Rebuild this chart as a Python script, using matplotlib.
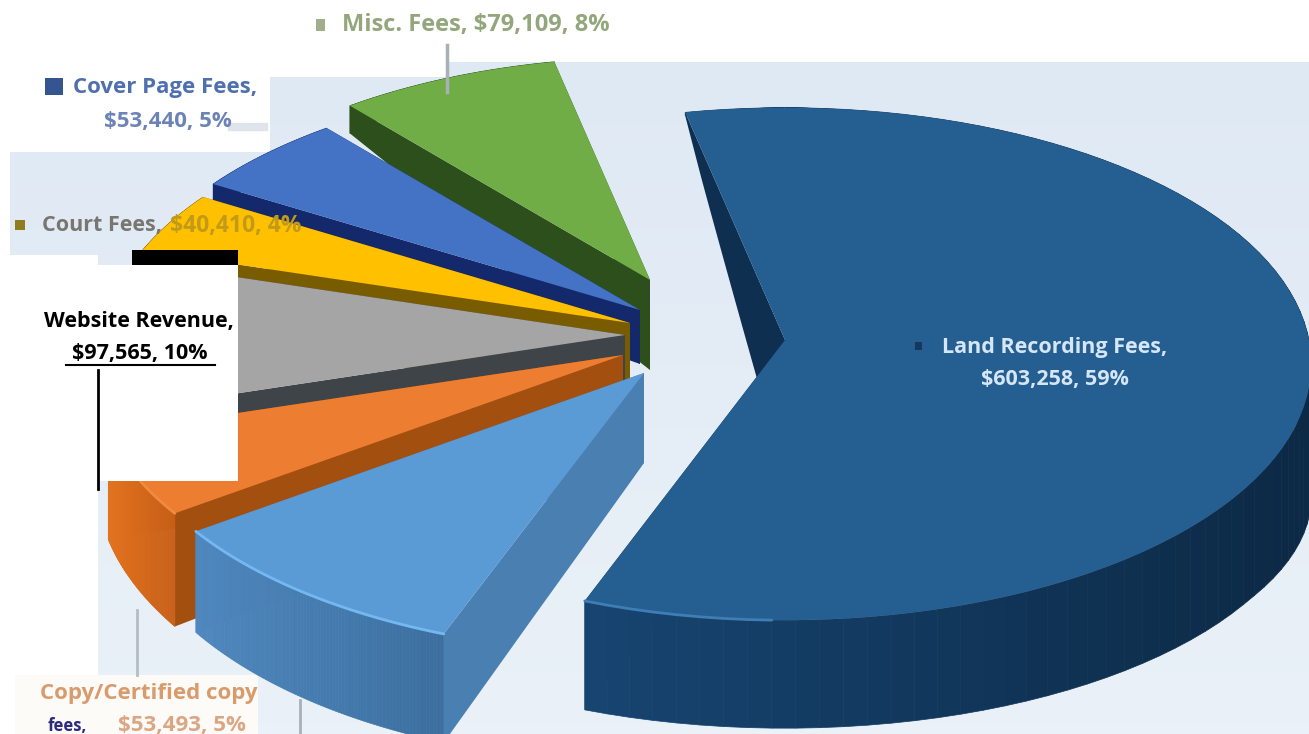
import numpy as np
import matplotlib
matplotlib.use("Agg")
import matplotlib.pyplot as plt
from matplotlib.patches import Polygon, Rectangle

plt.rcParams['font.family'] = ['Open Sans', 'DejaVu Sans']

# revenue per category, clockwise from the back of the pie
categories = ["Land Recording Fees", "Other Fees", "Copy/Certified copy fees",
              "Website Revenue", "Court Fees", "Cover Page Fees", "Misc. Fees"]
amounts = [603258, 95176, 53493, 97565, 40410, 53440, 79109]

top_colors = ["#255e91", "#5b9bd5", "#ed7d31", "#a5a5a5", "#ffc000", "#4472c4", "#70ad47"]
wall_colors = ["#0f2f50", "#4a7fb2", "#a34f10", "#3f4448", "#7a5c00", "#14296b", "#2c4f1c"]
rim_light = ["#174572", "#4f88bf", "#e2731f", "#6f6f6f", "#7a5c00", "#14296b", "#2c4f1c"]
rim_dark = ["#0c2945", "#3c6f9f", "#c85f18", "#5a5a5a", "#7a5c00", "#14296b", "#2c4f1c"]

# where each slice is pulled to (offset of its tip from the pie centre)
center = (640, 340)
explode_x = [145, 4, -17, -15, -10, 0, 10]
explode_y = [0, 33, 15, -5, -17, -30, -60]
radius = [1.0, 1.0, 1.0, 1.0, 1.0, 1.0, 0.955]

START_DEG = -12
SX, SY, K = 524, 254, 0.0935

# how thick the pie looks, depending on how near the viewer the point is
depth_v = [-1.0, -0.8, 0.0, 0.54, 1.0]
depth_h = [14, 22, 90, 100, 110]
depth_h_big = [0, 30, 137, 115, 108]
depth_scale = [1.0, 1.0, 1.12, 0.5, 1.0, 0.6, 1.0]

# lighter line on the edge facing the viewer
edge_colors = {0: "#3f7db5", 1: "#74b8f2", 2: "#f08a40"}
edge_max_u = {0: 0.0, 1: 0.0, 2: 0.0}


def project(u, v, cx, cy):
    d = 1 - K * v
    return cx + SX * u / d, cy + SY * v / d


def thickness(v, i):
    table = depth_h_big if i == 0 else depth_h
    return np.interp(v, depth_v, table) * depth_scale[i]


def blend(c1, c2, t):
    a = np.array(matplotlib.colors.to_rgb(c1))
    b = np.array(matplotlib.colors.to_rgb(c2))
    return tuple(a * (1 - t) + b * t)


def draw_slice(ax, a0, a1, i):
    cx = center[0] + explode_x[i]
    cy = center[1] + explode_y[i]
    r = radius[i]
    ang = np.radians(np.linspace(a0, a1, 90))
    u, v = r * np.sin(ang), -r * np.cos(ang)
    x, y = project(u, v, cx, cy)
    h = thickness(v, i)

    # side cut at each end of the slice, then the rim, then the top
    for a in (a1, a0):
        t = np.linspace(0, r, 30)
        ur, vr = t * np.sin(np.radians(a)), -t * np.cos(np.radians(a))
        xr, yr = project(ur, vr, cx, cy)
        hr = thickness(vr, i)
        pts = np.r_[np.c_[xr, yr], np.c_[xr, yr + hr][::-1]]
        ax.add_patch(Polygon(pts, closed=True, fc=wall_colors[i], ec='none'))

    for j in range(len(x) - 1):
        # shade follows the horizontal position along the rim
        t = np.clip((x[j] - x.min()) / max(x.max() - x.min(), 1), 0, 1)
        quad = [(x[j], y[j]), (x[j + 1], y[j + 1]),
                (x[j + 1], y[j + 1] + h[j + 1]), (x[j], y[j] + h[j])]
        col = blend(rim_light[i], rim_dark[i], t)
        ax.add_patch(Polygon(quad, closed=True, fc=col, ec=col, lw=0.5))

    pts = np.r_[[[cx, cy]], np.c_[x, y]]
    ax.add_patch(Polygon(pts, closed=True, fc=top_colors[i], ec='none'))

    if i in edge_colors:
        front = (v > 0.3) & (u < edge_max_u[i])
        ax.plot(x[front], y[front], color=edge_colors[i], lw=2, solid_capstyle='round')


fig = plt.figure(figsize=(13.09, 7.34), dpi=100)
ax = fig.add_axes([0, 0, 1, 1])
ax.axis('off')

# plot area background, slightly lighter towards the bottom
grad = np.linspace(0, 1, 64).reshape(-1, 1)
top_bg = np.array(matplotlib.colors.to_rgb("#dfe9f4"))
bot_bg = np.array(matplotlib.colors.to_rgb("#eaf1f8"))
bg = top_bg + (bot_bg - top_bg) * grad[..., None]
ax.imshow(bg, extent=(0, 1309, 734, 62), aspect='auto', zorder=0)
ax.set_xlim(0, 1309)
ax.set_ylim(734, 0)

# white boxes behind the outer labels
ax.add_patch(Rectangle((0, 62), 270, 90, fc='white', ec='none', zorder=0.5))
ax.add_patch(Rectangle((270, 62), 176, 15, fc='white', ec='none', zorder=0.5))
ax.add_patch(Rectangle((0, 150), 10, 105, fc='white', ec='none', zorder=0.5))
ax.add_patch(Rectangle((0, 255), 98, 479, fc='white', ec='none', zorder=0.5))
ax.add_patch(Rectangle((15, 675), 243, 59, fc='#fdfbf8', ec='none', zorder=0.5))

# leader lines
ax.plot([447, 447], [45, 92], color='#a9b0b6', lw=2.5, zorder=3)
ax.plot([137, 137], [610, 675], color='#b4bcc4', lw=2, zorder=0.8)
ax.plot([300, 300], [700, 734], color='#a9b0b6', lw=2, zorder=0.8)
ax.plot([232, 264], [127, 127], color='#dfe3ea', lw=6, zorder=0.8)

# slices, back to front; the big one sits on its own to the right
shares = np.array(amounts) / sum(amounts)
edges = START_DEG + np.r_[0, np.cumsum(shares)] * 360
draw_slice(ax, edges[0], edges[1], 0)
for i in [6, 5, 4, 3, 2, 1]:
    draw_slice(ax, edges[i], edges[i + 1], i)

# box around the website label, covers the left ends of the slices
ax.add_patch(Rectangle((98, 265), 140, 216, fc='white', ec='none', zorder=5))
ax.add_patch(Rectangle((132, 250), 106, 15, fc='black', ec='none', zorder=5))
ax.plot([98, 98], [370, 489], color='black', lw=2, zorder=6)

txt = dict(fontweight='bold', zorder=7, va='center')
ax.text(1055, 347, "Land Recording Fees,", color='#d5e6f6', ha='center', fontsize=15.5, **txt)
ax.text(1055, 379, "$603,258, 59%", color='#d5e6f6', ha='center', fontsize=15.5, **txt)
ax.add_patch(Rectangle((915, 342), 7, 8, fc='#16385c', ec='none', zorder=7))

ax.text(476, 25, "Misc. Fees, $79,109, 8%", color='#93a67c', ha='center', fontsize=17, **txt)
ax.add_patch(Rectangle((316, 19), 9, 12, fc='#a0ae8c', ec='none', zorder=7))

ax.text(257, 88, "Cover Page Fees,", color='#4f6fae', ha='right', fontsize=16, **txt)
ax.text(232, 122, "$53,440, 5%", color='#6c83b5', ha='right', fontsize=16, **txt)
ax.add_patch(Rectangle((45, 78), 18, 17, fc='#34558f', ec='none', zorder=7))

ax.text(42, 226, "Court Fees,", color='#77776f', ha='left', fontsize=15.5, **txt)
ax.text(302, 226, "$40,410, 4%", color='#c09a18', ha='right', fontsize=16.5, **txt)
ax.add_patch(Rectangle((15, 220), 10, 10, fc='#8f7d20', ec='none', zorder=7))

ax.text(139, 322, "Website Revenue,", color='black', ha='center', fontsize=15.5, **txt)
ax.text(140, 354, "$97,565, 10%", color='black', ha='center', fontsize=15.5, **txt)
ax.plot([66, 215], [365, 365], color='black', lw=1.5, zorder=7)

ax.text(257, 693, "Copy/Certified copy", color='#d99b6c', ha='right', fontsize=16, **txt)
ax.text(48, 726, "fees,", color='#2d2a7c', ha='left', fontsize=12, **txt)
ax.text(246, 726, "$53,493, 5%", color='#dba684', ha='right', fontsize=16, **txt)

fig.savefig("out.png", dpi=100)
